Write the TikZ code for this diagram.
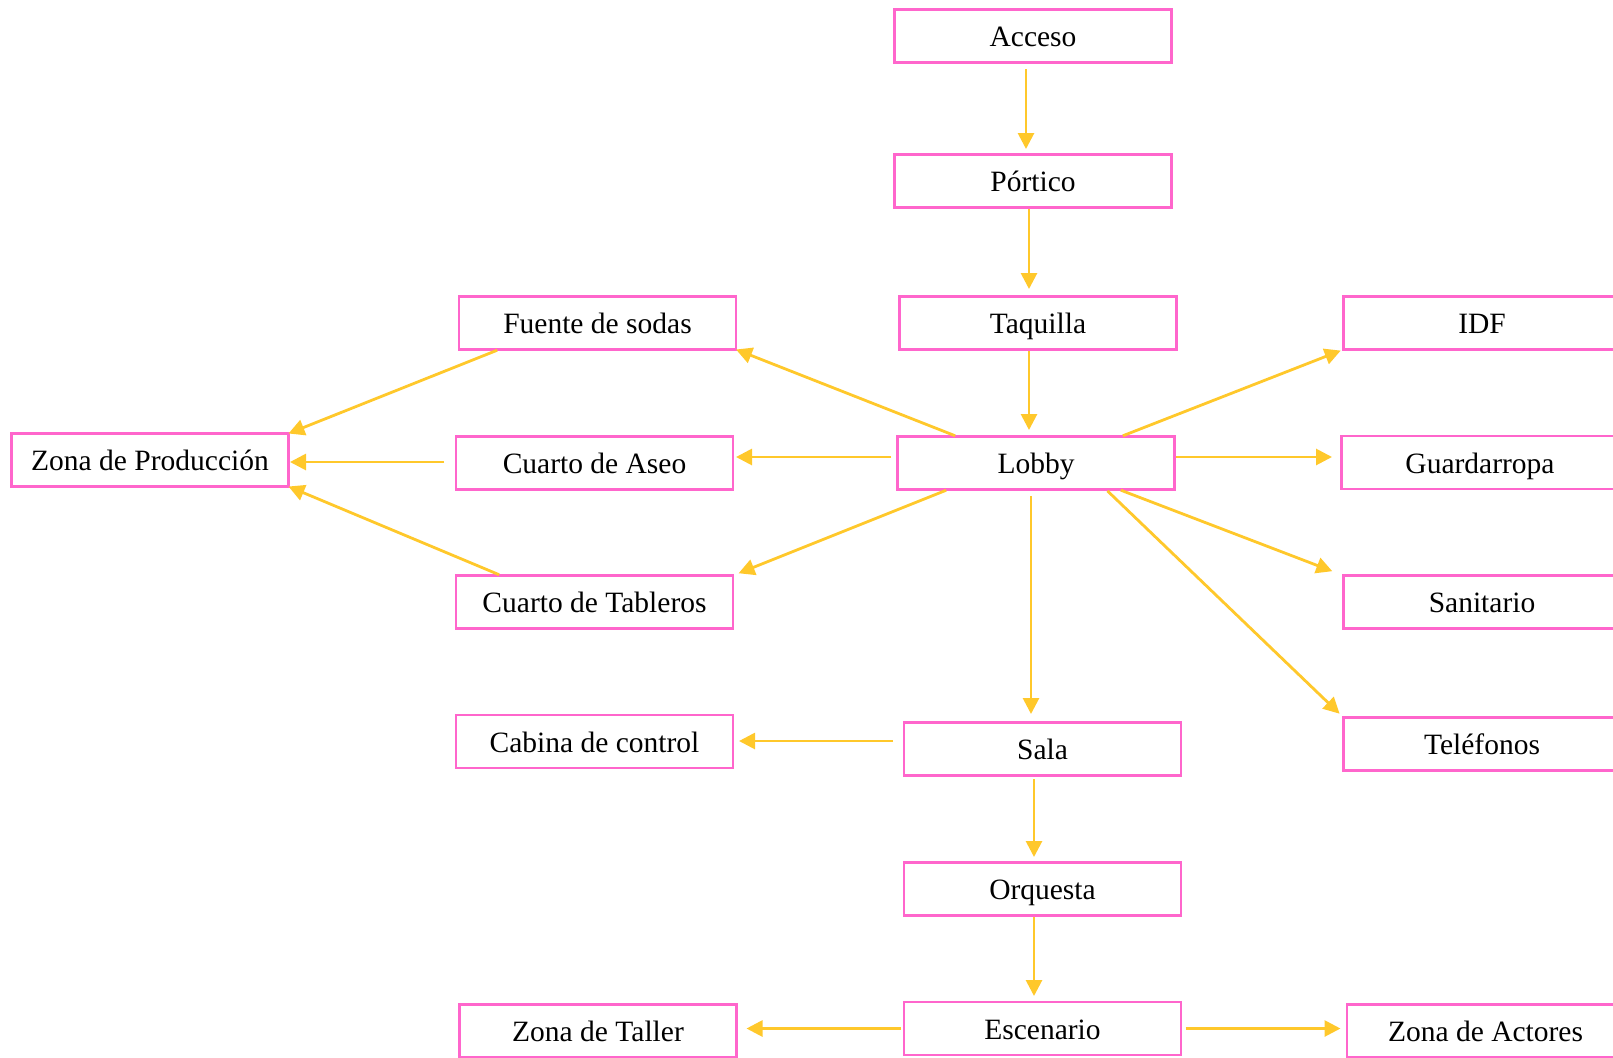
\documentclass[tikz,border=0pt]{standalone}
\usepackage{fontspec}
\setmainfont{Liberation Serif}
\usetikzlibrary{arrows.meta,positioning}
\definecolor{boxpink}{HTML}{FF66CC}
\definecolor{arrowgold}{HTML}{FFC82B}

\begin{document}
\begin{tikzpicture}[every node/.style={font=\fontsize{29.5}{34}\selectfont}, box/.style={draw=boxpink,line width=2.2pt,minimum width=277pt,minimum height=53pt,text height=23pt,text depth=2pt,inner sep=0pt,outer sep=0pt,align=center}, arr/.style={draw=arrowgold,line width=2.8pt,-{Triangle[length=16pt,width=16pt]},shorten <=2pt,shorten >=0pt}]
\useasboundingbox (0pt,0pt) rectangle (1613pt,-1057pt);
\node[box] (acceso) at (1033pt,-36pt) {Acceso};
\node[box, below=92pt of acceso] (portico) {Pórtico};
\node[box, below=89pt of portico, xshift=5pt] (taquilla) {Taquilla};
\node[box, below=87pt of taquilla, xshift=-2pt] (lobby) {Lobby};
\node[box, below=233pt of lobby, xshift=6.5pt] (sala) {Sala};
\node[box, below=87pt of sala] (orquesta) {Orquesta};
\node[box, below=86.5pt of orquesta] (escenario) {Escenario};
\node[box, left=163.5pt of taquilla] (fuente) {Fuente de sodas};
\node[box, left=164.5pt of lobby] (aseo) {Cuarto de Aseo};
\node[box, below=86pt of aseo] (tableros) {Cuarto de Tableros};
\node[box, left=171pt of sala, yshift=7.5pt] (cabina) {Cabina de control};
\node[box, left=167.5pt of escenario, yshift=-2.5pt] (taller) {Zona de Taller};
\node[box, left=167.5pt of aseo, yshift=3pt] (produccion) {Zona de Producción};
\node[box, right=167pt of taquilla] (idf) {IDF};
\node[box, right=167pt of lobby, yshift=0.5pt] (guardarropa) {Guardarropa};
\node[box, below=86.5pt of guardarropa, xshift=2pt] (sanitario) {Sanitario};
\node[box, below=89pt of sanitario] (telefonos) {Teléfonos};
\node[box, right=166pt of escenario, yshift=-2.5pt] (actores) {Zona de Actores};
% main line
\draw[arr, shorten <=6.5pt, shorten >=5.5pt] ([xshift=-7pt]acceso.south) -- ([xshift=-7pt]portico.north);
\draw[arr, shorten <=1.5pt, shorten >=7.5pt] ([xshift=-4pt]portico.south) -- ([xshift=-9pt]taquilla.north);
\draw[arr, shorten <=1.5pt, shorten >=6.5pt] ([xshift=-9pt]taquilla.south) -- ([xshift=-7pt]lobby.north);
\draw[arr, shorten <=6.5pt, shorten >=8.5pt] ([xshift=-5pt]lobby.south) -- ([xshift=-11.5pt]sala.north);
\draw[arr, shorten <=3.5pt, shorten >=5.5pt] ([xshift=-8.5pt]sala.south) -- ([xshift=-8.5pt]orquesta.north);
\draw[arr, shorten <=1.5pt, shorten >=6pt] ([xshift=-8.5pt]orquesta.south) -- ([xshift=-8.5pt]orquesta.south |- escenario.north);
% lobby to the left
\draw[arr] ([xshift=59.5pt]lobby.north west) -- (fuente.south east);
\draw[arr, shorten <=6.5pt, shorten >=3pt] ([yshift=6pt]lobby.west) -- ([yshift=6pt]lobby.west -| aseo.east);
\draw[arr, shorten >=6pt] ([xshift=50.5pt]lobby.south west) -- (tableros.north east);
\draw[arr] ([xshift=40pt]fuente.south west) -- (produccion.north east);
\draw[arr, shorten <=12pt, shorten >=1.5pt] ([yshift=1pt]aseo.west) -- ([yshift=1pt]aseo.west -| produccion.east);
\draw[arr] ([xshift=45pt]tableros.north west) -- (produccion.south east);
% lobby to the right
\draw[arr, shorten >=3pt] ([xshift=-53.5pt]lobby.north east) -- (idf.south west);
\draw[arr, shorten <=1.5pt, shorten >=9.5pt] ([yshift=6pt]lobby.east) -- ([yshift=6pt]lobby.east -| guardarropa.west);
\draw[arr, shorten >=12pt] ([xshift=-55.5pt]lobby.south east) -- (sanitario.north west);
\draw[arr, shorten >=5.5pt] ([xshift=-68.5pt]lobby.south east) -- (telefonos.north west);
% sala and escenario
\draw[arr, shorten <=11pt, shorten >=6pt] ([yshift=8pt]sala.west) -- ([yshift=8pt]sala.west -| cabina.east);
\draw[arr, shorten <=3.5pt, shorten >=10pt] (escenario.west) -- (escenario.west -| taller.east);
\draw[arr, shorten <=4.5pt, shorten >=6.5pt] (escenario.east) -- (escenario.east -| actores.west);
\end{tikzpicture}
\end{document}
